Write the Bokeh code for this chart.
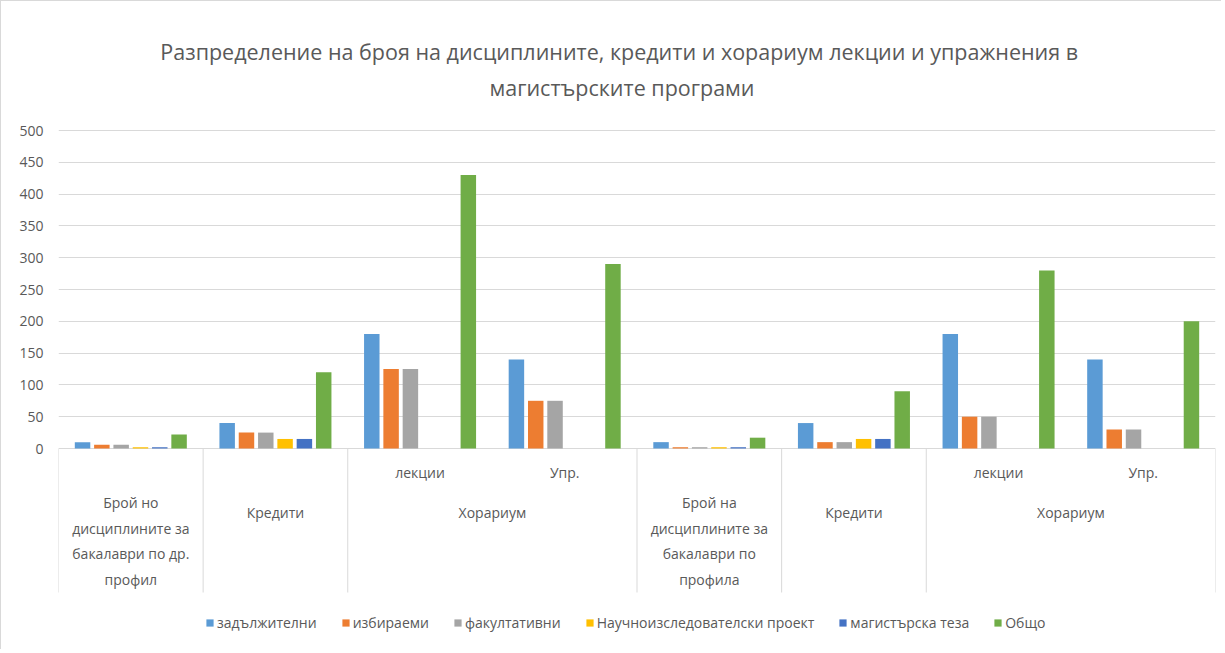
import numpy as np
from bokeh.plotting import figure
from bokeh.models import ColumnDataSource, Range1d, FixedTicker, Legend, LegendItem
from bokeh.core.properties import value
from bokeh.transform import dodge
from bokeh.embed import file_html
from bokeh.resources import INLINE

# ---------------- data ----------------
title_lines = [
    "Разпределение на  броя на дисциплините, кредити и хорариум лекции и упражнения в",
    "магистърските програми",
]
groups = [
    "Брой но\nдисциплините за\nбакалаври по др.\nпрофил",
    "Кредити",
    "Хорариум",
    "Брой на\nдисциплините за\nбакалаври по\nпрофила",
    "Кредити",
    "Хорариум",
]
leaf_group = [0, 1, 2, 2, 3, 4, 5, 5]
leaf_sub = ["", "", "лекции", "Упр.", "", "", "лекции", "Упр."]

series_names = ["задължителни", "избираеми", "факултативни",
                "Научноизследователски проект", "магистърска теза", "Общо"]
zadalzhitelni = [10, 40, 180, 140, 10, 40, 180, 140]
izbiraemi = [6, 25, 125, 75, 2, 10, 50, 30]
fakultativni = [6, 25, 125, 75, 2, 10, 50, 30]
nauchen_proekt = [2, 15, 0, 0, 2, 15, 0, 0]
magisterska_teza = [2, 15, 0, 0, 2, 15, 0, 0]
obshto = [22, 120, 430, 290, 17, 90, 280, 200]
colors = ["#5B9BD5", "#ED7D31", "#A5A5A5", "#FFC000", "#4472C4", "#70AD47"]
y_ticks = [0, 50, 100, 150, 200, 250, 300, 350, 400, 450, 500]

# ---------------- layout constants ----------------
FONT = "Open Sans"
TXT = "#595959"
GRID = "#D9D9D9"
W, H = 1221, 649
MB_L, MB_R, MB_T, MB_B = 57, 7, 0, 6
ZERO_Y = 447          # canvas y of value 0
TOP_Y = 129           # canvas y of value 500
PPU = (ZERO_Y - TOP_Y) / 500.0
frame_bottom = H - MB_B
y_end = 500 + (TOP_Y - MB_T) / PPU
y_start = -(frame_bottom - ZERO_Y) / PPU


def below(px):
    return -px / PPU


def above_top(px):
    return 500 + px / PPU


n_leaf = len(leaf_group)
p = figure(width=W, height=H, output_backend="svg", toolbar_location=None,
           x_range=Range1d(0, n_leaf), y_range=Range1d(y_start, y_end),
           min_border_left=MB_L, min_border_right=MB_R,
           min_border_top=MB_T, min_border_bottom=MB_B)
p.outline_line_color = None
p.background_fill_color = "white"
p.border_fill_color = "white"
p.xaxis.visible = False
p.xgrid.visible = False
p.ygrid.ticker = FixedTicker(ticks=y_ticks)
p.ygrid.grid_line_color = GRID
p.ygrid.grid_line_width = 1
ax = p.yaxis[0]
ax.ticker = FixedTicker(ticks=y_ticks)
ax.axis_line_color = None
ax.major_tick_line_color = None
ax.minor_tick_line_color = None
ax.major_tick_out = 0
ax.major_tick_in = 0
ax.major_label_standoff = 15
ax.major_label_text_font = FONT
ax.major_label_text_font_size = "14px"
ax.major_label_text_color = TXT

# ---------------- bars ----------------
src = ColumnDataSource(dict(
    x=[i + 0.5 for i in range(n_leaf)],
    s0=zadalzhitelni, s1=izbiraemi, s2=fakultativni,
    s3=nauchen_proekt, s4=magisterska_teza, s5=obshto,
))
STEP = 0.1335
BW = 0.107
items = []
for k, name in enumerate(series_names):
    r = p.vbar(x=dodge("x", (k - 2.5) * STEP, range=p.x_range), top="s%d" % k,
               width=BW, bottom=0, source=src, fill_color=colors[k], line_color=None)
    items.append(LegendItem(label=name, renderers=[r]))

# ---------------- category axis (multi-level) ----------------
bounds = [0]
for i in range(1, n_leaf):
    if leaf_group[i] != leaf_group[i - 1]:
        bounds.append(i)
bounds.append(n_leaf)
p.segment(x0=bounds, y0=[0] * len(bounds), x1=bounds, y1=[below(144)] * len(bounds),
          line_color=GRID, line_width=1)

sub_x = [i + 0.5 for i in range(n_leaf) if leaf_sub[i]]
sub_t = [leaf_sub[i] for i in range(n_leaf) if leaf_sub[i]]
p.text(x=sub_x, y=[below(24)] * len(sub_x), text=sub_t, text_align="center",
       text_baseline="middle", text_font=value(FONT), text_font_size="14px",
       text_color=TXT)

gx, gy, gt = [], [], []
for g, label in enumerate(groups):
    idx = [i for i in range(n_leaf) if leaf_group[i] == g]
    cx = (min(idx) + max(idx) + 1) / 2.0
    lines = label.split("\n")
    if len(lines) == 1:
        gx.append(cx); gy.append(below(64)); gt.append(lines[0])
    else:
        for j, ln in enumerate(lines):
            gx.append(cx); gy.append(below(54 + 25.6 * j)); gt.append(ln)
p.text(x=gx, y=gy, text=gt, text_align="center", text_baseline="middle",
       text_font=value(FONT), text_font_size="14px", text_color=TXT)

# ---------------- title ----------------
title_cx = 563.5 / ((W - MB_L - MB_R) / n_leaf)
p.text(x=[title_cx, title_cx], y=[above_top(79), above_top(43)], text=title_lines,
       text_align="center", text_baseline="middle", text_font=value(FONT),
       text_font_size="21.5px", text_color=TXT)

# ---------------- legend ----------------
legend = Legend(items=items, orientation="horizontal", location=(147, 12),
                glyph_width=9, glyph_height=9, label_standoff=3, spacing=24,
                padding=0, margin=0, label_height=20,
                label_text_font=FONT, label_text_font_size="14px",
                label_text_color=TXT, border_line_color=None,
                background_fill_alpha=0)
p.add_layout(legend, "center")

p.styles = {"border-left": "1px solid #D9D9D9", "border-top": "1px solid #D9D9D9",
            "box-sizing": "border-box"}

open("out.html", "w").write(file_html(p, INLINE))
